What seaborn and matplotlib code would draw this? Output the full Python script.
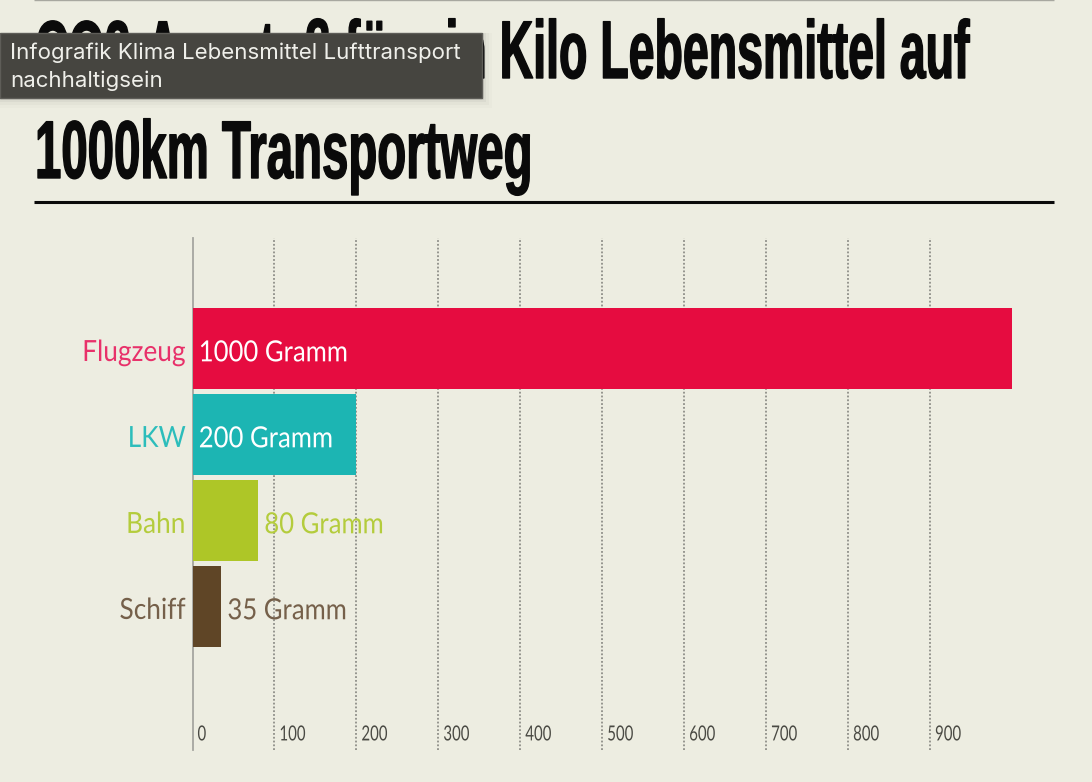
import pandas as pd
import seaborn as sns
import matplotlib.pyplot as plt
from matplotlib.lines import Line2D
from matplotlib.patches import Rectangle
from matplotlib.patheffects import AbstractPathEffect
from matplotlib.transforms import Affine2D

W, H = 1092, 782
BG = "#EDEDE1"


# Squeeze text sideways, there is no condensed font installed
class Squeeze(AbstractPathEffect):
    def __init__(self, sx, stroke=0.0, right=False, dy=0):
        super().__init__()
        self.sx = sx
        self.stroke = stroke
        self.right = right
        self.dy = dy

    def draw_path(self, renderer, gc, tpath, affine, rgbFace=None):
        gc2 = renderer.new_gc()
        gc2.copy_properties(gc)
        gc2.set_linewidth(self.stroke)
        gc2.set_foreground(rgbFace)
        shift = tpath.get_extents().x1 * (1 - self.sx) if self.right else 0
        t = Affine2D().scale(self.sx, 1).translate(shift, 0)
        renderer.draw_path(gc2, tpath, t + affine + Affine2D().translate(0, self.dy), rgbFace)
        gc2.restore()


df = pd.DataFrame({
    "mode": ["Flugzeug", "LKW", "Bahn", "Schiff"],
    "gramm": [1000, 200, 80, 35],
})
colors = {"Flugzeug": "#E60C40", "LKW": "#1CB5B3", "Bahn": "#AEC627", "Schiff": "#5F4526"}
text_colors = {"Flugzeug": "#E8316A", "LKW": "#2CBDBB", "Bahn": "#B4CC3C", "Schiff": "#75604A"}

sns.set_theme(style="white", rc={"figure.facecolor": BG, "axes.facecolor": BG})
plt.rcParams["font.family"] = ["Lato", "DejaVu Sans"]

fig = plt.figure(figsize=(W / 100, H / 100), dpi=100)
ax = fig.add_axes([192.5 / W, 1 - 750 / H, (1012 - 192.5) / W, (750 - 238) / H])

sns.barplot(data=df, y="mode", x="gramm", hue="mode", palette=colors, dodge=False,
            width=0.94, saturation=1, legend=False, linewidth=0, ax=ax, zorder=3)
ax.set_xlim(0, 1000)
ax.set_ylim(4.67, -1.285)
ax.set_xlabel("")
ax.set_ylabel("")

for s in ["top", "right", "bottom"]:
    ax.spines[s].set_visible(False)
ax.spines["left"].set_color("#A5A5A0")
ax.spines["left"].set_linewidth(1.3)
ax.spines["left"].set_zorder(2)

# grid lines with the scale sitting inside, right of each line
ticks = list(range(0, 1000, 100))
ax.set_xticks(ticks)
ax.set_xticklabels([])
ax.tick_params(axis="x", length=0)
ax.tick_params(axis="y", length=0, pad=5)
for t in ticks[1:]:
    ax.axvline(t, color="#8E8E88", lw=1.3, ls=(0, (1, 1.1)), zorder=1)
for t in ticks:
    ax.annotate(str(t), (t, 0), xycoords=("data", "axes fraction"), xytext=(3.6, 4),
                textcoords="offset points", ha="left", va="bottom", fontsize=15,
                color="#4A4A44", zorder=1, path_effects=[Squeeze(0.72)])

for lab, m in zip(ax.get_yticklabels(), df["mode"]):
    lab.set_color(text_colors[m])
    lab.set_fontsize(21)
    lab.set_path_effects([Squeeze(0.9, right=True, dy=-2)])

for i, row in df.iterrows():
    inside = row["gramm"] >= 200
    ax.annotate(f"{row['gramm']} Gramm", (0 if inside else row["gramm"], i),
                xytext=(4.5, -3.5), textcoords="offset points", ha="left", va="center",
                fontsize=21, color="white" if inside else text_colors[row["mode"]], zorder=4,
                path_effects=[Squeeze(0.88)])

# title and rules
title_kw = dict(color="#0A0A0A", fontsize=59, ha="left", va="baseline", family="Liberation Sans",
                fontweight="bold", zorder=1)
fig.text(35 / W, 1 - 78 / H, "CO2-Ausstoß für ein Kilo Lebensmittel auf",
         path_effects=[Squeeze(0.567, 1.0)], **title_kw)
fig.text(35 / W, 1 - 178 / H, "1000km Transportweg",
         path_effects=[Squeeze(0.578, 1.0)], **title_kw)
fig.add_artist(Line2D([34 / W, 1054 / W], [1 - 201.5 / H] * 2, color="#0A0A0A", lw=2.2,
                      solid_capstyle="butt"))
fig.add_artist(Line2D([34 / W, 1054 / W], [1 - 0.3 / H] * 2, color="#A8A8A0", lw=1,
                      solid_capstyle="butt"))

# tooltip over the title
for grow, a in [(10, 0.015), (7, 0.025), (4, 0.035), (2, 0.05)]:
    fig.add_artist(Rectangle((0, 1 - (98 + grow) / H), (482 + grow) / W, (65 + grow) / H,
                             transform=fig.transFigure, fc="black", ec="none", alpha=a, zorder=5))
fig.add_artist(Rectangle((0, 1 - 98 / H), 482 / W, 65 / H, transform=fig.transFigure,
                         fc="#464540", ec="#5E5D58", lw=1, zorder=6))
fig.text(10 / W, 1 - 53 / H, "Infografik Klima Lebensmittel Lufttransport", color="#EFEFEA",
         fontsize=16, family="Inter", va="center", ha="left", zorder=7)
fig.text(10 / W, 1 - 81 / H, "nachhaltigsein", color="#EFEFEA",
         fontsize=16, family="Inter", va="center", ha="left", zorder=7)

fig.savefig("out.png", dpi=100, facecolor=BG)
